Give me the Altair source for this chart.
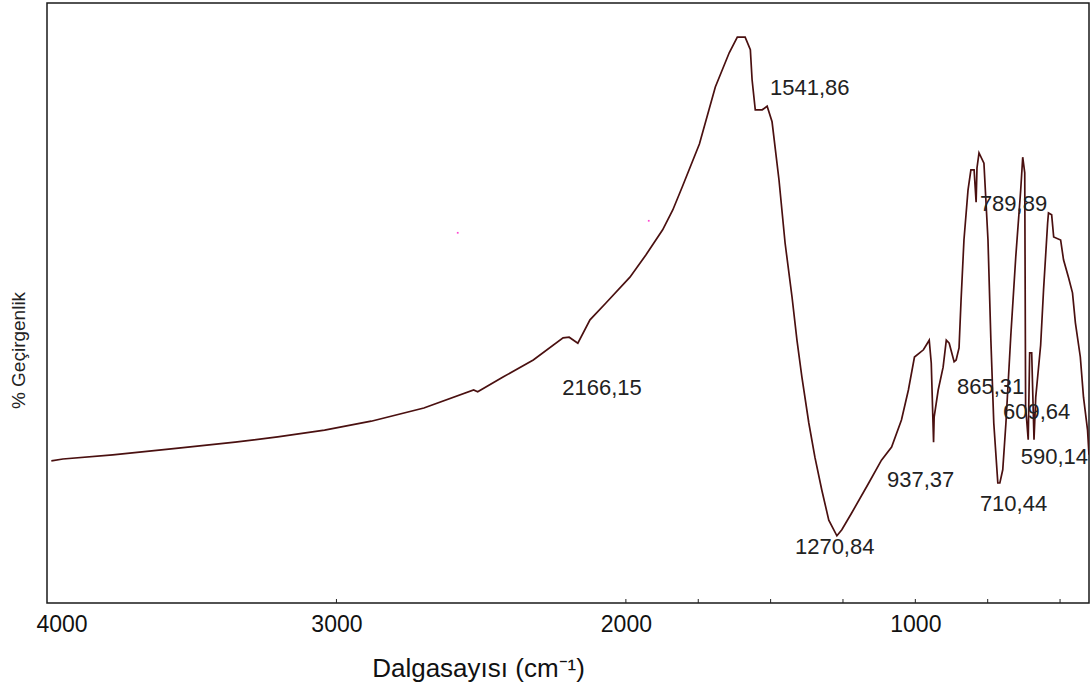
import altair as alt
import pandas as pd

# FTIR spectrum (wavenumber in cm-1, % transmittance, arbitrary scale 0-100)
wavenumber = [3985, 3945, 3773, 3546, 3350, 3203, 3041, 2880, 2698, 2526, 2512, 2423, 2320, 2217,
              2196, 2166, 2124, 2069, 1986, 1931, 1873, 1838, 1804, 1746, 1691, 1643, 1615, 1588,
              1570, 1564, 1553, 1529, 1512, 1495, 1471, 1450, 1426, 1409, 1392, 1368, 1347, 1323,
              1299, 1271, 1254, 1220, 1161, 1117, 1082, 1048, 1024, 1003, 972, 952, 945, 937, 935,
              921, 904, 893, 883, 866, 859, 849, 842, 832, 818, 808, 797, 790, 787, 780, 763, 749,
              739, 729, 715, 708, 698, 687, 670, 653, 636, 629, 622, 619, 610, 605, 598, 590, 584,
              567, 557, 543, 540, 529, 522, 498, 488, 471, 457, 447, 430, 419, 405, 400]
transmittance = [23.7, 24.0, 24.7, 25.8, 26.8, 27.7, 28.8, 30.3, 32.5, 35.5, 35.2, 37.7, 40.5, 44.2,
                 44.3, 43.3, 47.2, 50.0, 54.3, 58.0, 62.2, 65.5, 69.5, 76.5, 86.0, 91.7, 94.3, 94.3,
                 92.2, 87.2, 82.2, 82.2, 82.8, 80.2, 70.5, 60.0, 51.0, 43.8, 37.7, 30.0, 24.3, 18.8,
                 13.8, 11.2, 12.2, 15.0, 20.0, 23.8, 26.0, 30.5, 35.5, 41.0, 42.2, 43.8, 40.0, 26.8, 31.0,
                 35.5, 39.3, 43.8, 43.3, 40.2, 40.5, 42.5, 50.5, 60.5, 68.8, 72.2, 72.2, 66.8, 72.5, 75.0,
                 73.3, 60.5, 43.8, 30.0, 20.0, 20.0, 22.2, 30.0, 44.7, 57.7, 68.8, 74.3, 71.7, 32.7, 27.2,
                 41.7, 41.7, 27.2, 34.3, 43.0, 52.2, 63.3, 65.0, 64.7, 61.0, 60.5, 57.2, 54.3, 51.7, 46.7,
                 41.0, 34.3, 28.8, 24.7]

# peak annotations
peak_text = ["1541,86", "2166,15", "1270,84", "937,37", "865,31", "789,89", "609,64", "590,14", "710,44"]
peak_text_wn = [1502, 2220, 1416, 1098, 856, 777, 697, 636, 777]
peak_text_t = [85.8, 35.8, 9.3, 20.5, 36.0, 66.5, 31.8, 24.3, 16.5]

# stray magenta pixels in the original
dot_wn = [2581, 1921]
dot_t = [61.7, 63.7]

# inward tick marks on the bottom axis
tick_wn = [3000, 2000, 1750, 1500, 1250, 1000, 750, 500]

spec = pd.DataFrame({"wn": wavenumber, "t": transmittance, "i": range(len(wavenumber))})
labels = pd.DataFrame({"wn": peak_text_wn, "t": peak_text_t, "txt": peak_text})
dots = pd.DataFrame({"wn": dot_wn, "t": dot_t})
ticks = pd.DataFrame({"wn": tick_wn})

xscale = alt.Scale(domain=[4000, 400], nice=False, zero=False)
yscale = alt.Scale(domain=[0, 100], nice=False, zero=False)

xaxis = alt.Axis(
    title="Dalgasayısı (cm⁻¹)",
    values=[4000, 3000, 2000, 1000],
    format="d",
    ticks=False,
    domain=False,
    grid=False,
    labelFont="Liberation Sans Narrow, Liberation Sans",
    labelFontSize=23,
    labelColor="#111111",
    labelBaseline="alphabetic",
    labelPadding=28,
    labelFlush=True,
    labelFlushOffset=11,
    titleFont="Liberation Sans",
    titleFontSize=26,
    titleFontWeight="normal",
    titleColor="#111111",
    titleX=431,
    titleY=73,
    titleAnchor="middle",
    titleAlign="center",
    titleBaseline="alphabetic",
)
yaxis = alt.Axis(
    title="% Geçirgenlik",
    labels=False,
    ticks=False,
    domain=False,
    grid=False,
    titleFont="Liberation Sans",
    titleFontSize=19,
    titleFontWeight="normal",
    titleColor="#222222",
    titleAngle=270,
    titleX=-29,
    titleY=347,
    titleAlign="center",
    titleBaseline="middle",
)

line = alt.Chart(spec).mark_line(color="#4a1010", strokeWidth=1.7, clip=True).encode(
    x=alt.X("wn:Q", scale=xscale, axis=xaxis),
    y=alt.Y("t:Q", scale=yscale, axis=yaxis),
    order="i:Q",
)

text = alt.Chart(labels).mark_text(
    align="left", baseline="middle", font="Liberation Sans", fontSize=22, color="#222222"
).encode(
    x=alt.X("wn:Q", scale=xscale),
    y=alt.Y("t:Q", scale=yscale),
    text="txt:N",
)

pts = alt.Chart(dots).mark_square(color="#ff33cc", size=3, opacity=0.9).encode(
    x=alt.X("wn:Q", scale=xscale),
    y=alt.Y("t:Q", scale=yscale),
)

tickmarks = alt.Chart(ticks).mark_rule(color="#222222", strokeWidth=1).encode(
    x=alt.X("wn:Q", scale=xscale),
    y=alt.value(600),
    y2=alt.value(596),
)

chart = alt.layer(line, tickmarks, pts, text).properties(
    width=1042,
    height=600,
    autosize=alt.AutoSizeParams(type="none"),
    padding={"left": 47, "top": 3, "right": 2, "bottom": 87},
    background="white",
).configure_view(stroke="#1a1a1a", strokeWidth=1.5)

chart.save("out.html", embed_options={"renderer": "svg", "actions": False})
